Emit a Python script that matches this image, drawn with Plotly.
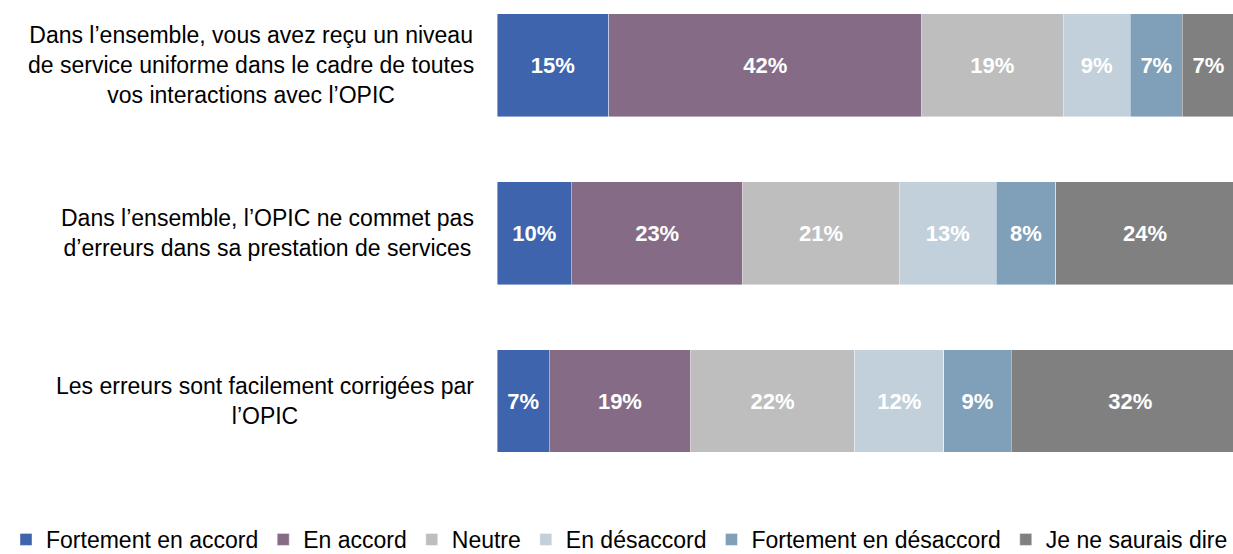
import plotly.graph_objects as go

categories = [
    "Dans l’ensemble, vous avez reçu un niveau<br>de service uniforme dans le cadre de toutes<br>vos interactions avec l’OPIC",
    "Dans l’ensemble, l’OPIC ne commet pas<br>d’erreurs dans sa prestation de services",
    "Les erreurs sont facilement corrigées par<br>l’OPIC",
]
series_names = ["Fortement en accord", "En accord", "Neutre", "En désaccord",
                "Fortement en désaccord", "Je ne saurais dire"]
fortement_accord = [15, 10, 7]
en_accord = [42, 23, 19]
neutre = [19, 21, 22]
en_desaccord = [9, 13, 12]
fortement_desaccord = [7, 8, 9]
ne_sais = [7, 24, 32]
colors = ["#3D64AD", "#866B87", "#BEBEBE", "#C2D0DB", "#809FB8", "#808080"]

all_values = [fortement_accord, en_accord, neutre, en_desaccord, fortement_desaccord, ne_sais]

W, H = 1233, 554
left, right, top, bottom = 497, 0, 10, 84
plot_w = W - left - right
plot_h = H - top - bottom

fig = go.Figure()
for name, vals, col in zip(series_names, all_values, colors):
    fig.add_trace(go.Bar(
        y=categories, x=vals, name=name, orientation="h",
        marker=dict(color=col, line=dict(color="rgba(255,255,255,0.6)", width=0.7)),
        text=[f"{v}%" for v in vals], textposition="inside", insidetextanchor="middle",
        textfont=dict(family="Liberation Sans, Arial", size=22, color="white", weight="bold"),
        constraintext="none", cliponaxis=True,
    ))

for cat in categories:
    fig.add_annotation(
        x=(476 - left) / plot_w, xref="paper", y=cat, yref="y",
        text=cat, showarrow=False, xanchor="right", yanchor="middle", align="center",
        font=dict(family="Liberation Sans, Arial", size=23, color="#000000"),
    )

fig.update_layout(
    width=W, height=H, barmode="stack", bargap=0.387,
    margin=dict(l=left, r=right, t=top, b=bottom, autoexpand=False),
    paper_bgcolor="white", plot_bgcolor="white",
    xaxis=dict(range=[0, 98.8], visible=False, fixedrange=True),
    yaxis=dict(range=[2.411, -0.330], showticklabels=False, showgrid=False, zeroline=False,
               showline=False, ticks="", fixedrange=True),
    legend=dict(orientation="h", x=(6 - left) / plot_w, xanchor="left",
                y=-(518 - (H - bottom)) / plot_h, yanchor="top",
                traceorder="normal",
                font=dict(family="Liberation Sans, Arial", size=23, color="#000000"),
                itemwidth=30, tracegroupgap=0),
    showlegend=True,
)

fig.write_html(
    "out.html",
    config={"displayModeBar": False},
    post_script="document.body.style.margin='0';document.body.style.overflow='hidden';",
)
